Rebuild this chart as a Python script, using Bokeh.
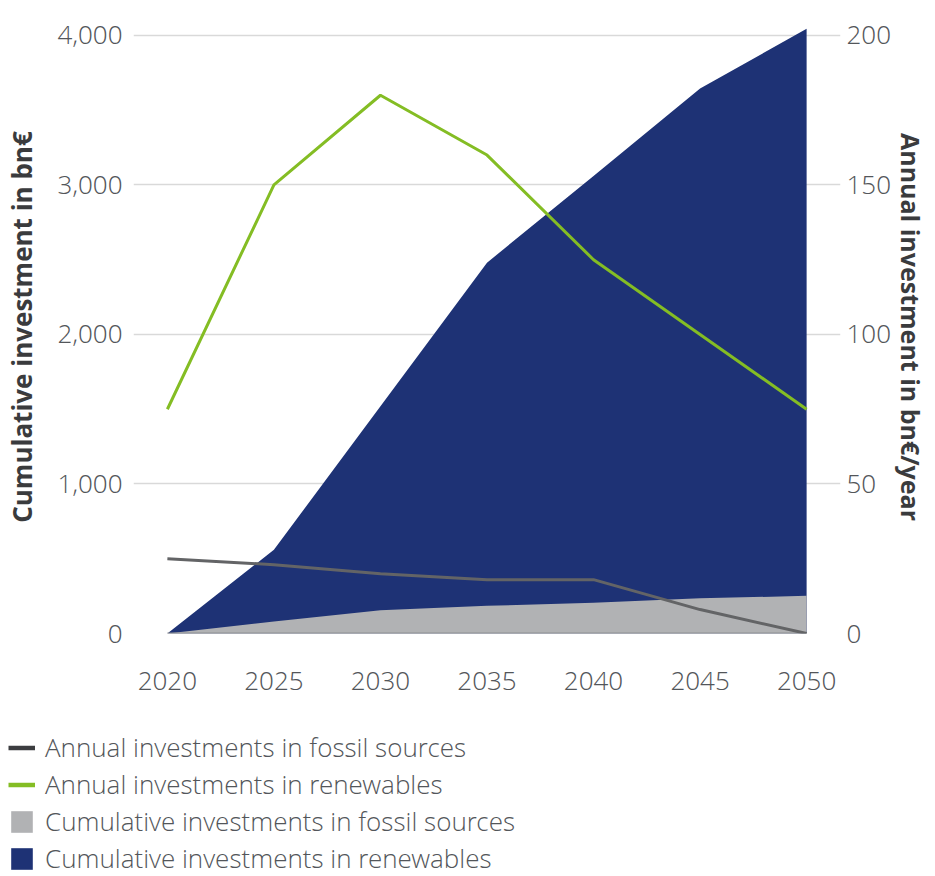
from bokeh.plotting import figure
from bokeh.layouts import column
from bokeh.models import Range1d, LinearAxis, Legend, LegendItem, NumeralTickFormatter, FixedTicker
from bokeh.embed import file_html
from bokeh.resources import INLINE

years = [2020, 2025, 2030, 2035, 2040, 2045, 2050]
cum_renewables = [0, 560, 1520, 2480, 3060, 3645, 4045]
cum_fossil = [0, 80, 155, 185, 205, 235, 252]
annual_renewables = [75, 150, 180, 160, 125, 100, 75]
annual_fossil = [25, 23, 20, 18, 18, 8, 0]
zeros = [0] * len(years)

left_ticks = [0, 1000, 2000, 3000, 4000]
right_ticks = [0, 50, 100, 150, 200]

legend_labels = ["Annual investments in fossil sources",
                 "Annual investments in renewables",
                 "Cumulative investments in fossil sources",
                 "Cumulative investments in renewables"]

FONT = "Open Sans Light, Open Sans"
BFONT = "Open Sans"
TXT = "#53565a"
TITLE = "#3a3b3d"
BLUE = "#1e3275"
GREEN = "#84bd24"
GREY_AREA = "#b1b2b4"
GREY_LINE = "#636466"
LEG_GREY = "#3c3d40"

p = figure(width=935, height=715, output_backend="svg", toolbar_location=None,
           x_range=Range1d(2018.41, 2051.59), y_range=Range1d(0, 4100),
           min_border_left=132, min_border_right=95, min_border_top=20, min_border_bottom=82)
p.frame_align = False
p.outline_line_color = None
p.background_fill_color = "white"
p.border_fill_color = "white"
p.extra_y_ranges = {"annual": Range1d(0, 205)}

p.xgrid.grid_line_color = None
p.ygrid.grid_line_color = "#d9d9d9"
p.ygrid.grid_line_width = 1.5
p.ygrid.ticker = FixedTicker(ticks=left_ticks)

ya = p.yaxis[0]
ya.ticker = FixedTicker(ticks=left_ticks)
ya.formatter = NumeralTickFormatter(format="0,0")
ya.axis_label = "Cumulative investment in bn€"
xa = p.xaxis[0]
xa.ticker = FixedTicker(ticks=years)

ra = LinearAxis(y_range_name="annual", ticker=FixedTicker(ticks=right_ticks),
                axis_label="Annual investment in bn€/year")
p.add_layout(ra, "right")

for ax in [ya, xa, ra]:
    ax.axis_line_color = None
    ax.major_tick_line_color = None
    ax.minor_tick_line_color = None
    ax.major_label_text_font = FONT
    ax.major_label_text_font_size = "26px"
    ax.major_label_text_color = TXT
    ax.axis_label_text_font = BFONT
    ax.axis_label_text_font_size = "26px"
    ax.axis_label_text_font_style = "bold"
    ax.axis_label_text_color = TITLE
ra.axis_label_text_font_size = "25px"
ya.major_label_standoff = 5
ya.axis_label_standoff = 15
ra.major_label_standoff = 0
ra.axis_label_standoff = 0
xa.major_label_standoff = 32

p.varea(x=years, y1=zeros, y2=cum_renewables, fill_color=BLUE)
p.varea(x=years, y1=zeros, y2=cum_fossil, fill_color=GREY_AREA)
p.line(x=years, y=zeros, line_color="#8e8f92", line_width=2)
p.line(x=years, y=annual_fossil, y_range_name="annual", line_color=GREY_LINE, line_width=3)
p.line(x=years, y=annual_renewables, y_range_name="annual", line_color=GREEN, line_width=3)

# legend panel: same series, drawn outside its visible ranges so only the legend shows
lg = figure(width=935, height=161, output_backend="svg", toolbar_location=None,
            x_range=Range1d(0, 1), y_range=Range1d(0, 1),
            x_axis_location=None, y_axis_location=None,
            min_border_left=0, min_border_right=0, min_border_top=0, min_border_bottom=0)
lg.frame_align = False
lg.outline_line_color = None
lg.grid.grid_line_color = None
lg.border_fill_color = "white"
r1 = lg.line(x=years, y=annual_fossil, line_color=LEG_GREY, line_width=4.5)
r2 = lg.line(x=years, y=annual_renewables, line_color=GREEN, line_width=4.5)
r3 = lg.varea(x=years, y1=zeros, y2=cum_fossil, fill_color=GREY_AREA)
r4 = lg.varea(x=years, y1=zeros, y2=cum_renewables, fill_color=BLUE)
legend = Legend(items=[LegendItem(label=t, renderers=[r]) for t, r in zip(legend_labels, [r1, r2, r3, r4])],
                location=(8, 0))
legend.label_text_font = FONT
legend.label_text_font_size = "26px"
legend.label_text_color = TXT
legend.glyph_width = 27
legend.glyph_height = 27
legend.label_height = 35
legend.label_standoff = 10
legend.spacing = 1
legend.padding = 0
legend.margin = 0
legend.border_line_color = None
legend.background_fill_alpha = 0
lg.add_layout(legend, "center")

layout = column(p, lg, spacing=0)
open("out.html", "w").write(file_html(layout, INLINE))
